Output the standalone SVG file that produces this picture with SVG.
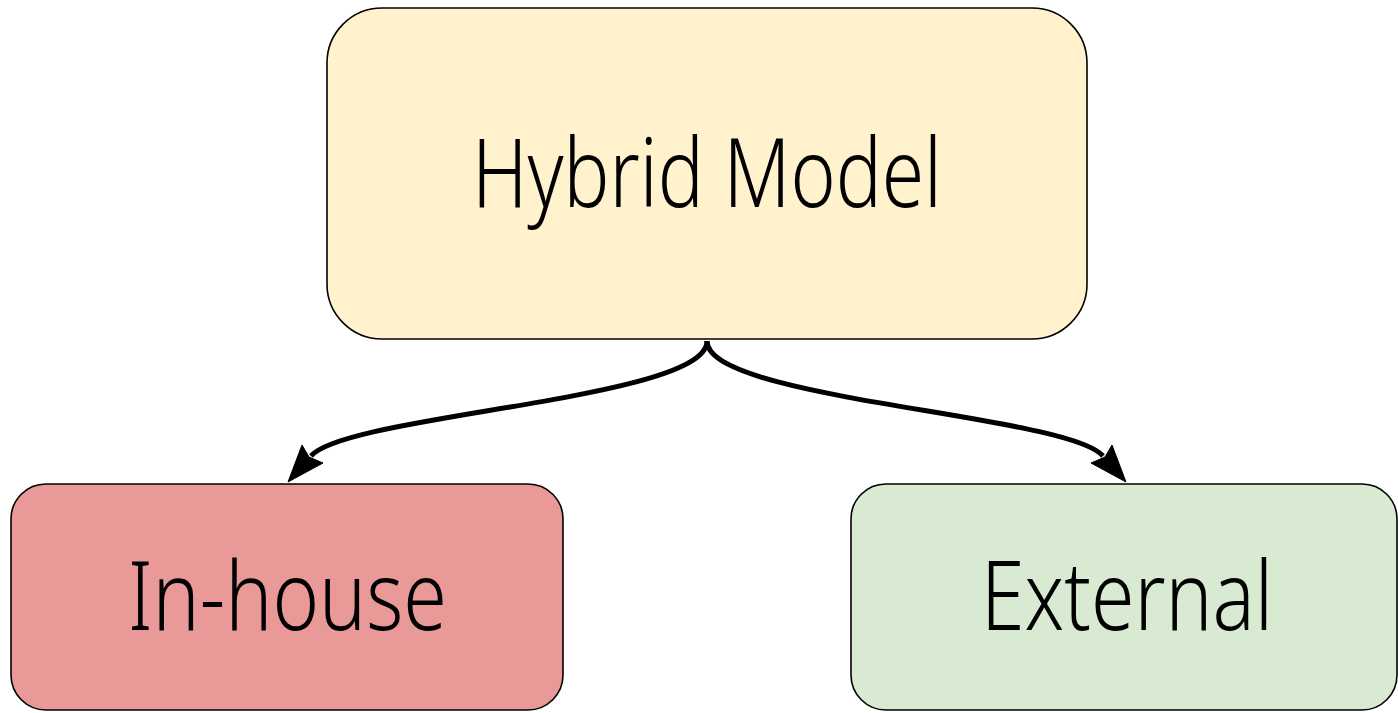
<svg xmlns="http://www.w3.org/2000/svg" width="1398" height="713" viewBox="0 0 1398 713">
  <defs>
    <style>
      .box { stroke: #000; stroke-width: 1.6; }
      .label { font-family: "Noto Sans", "Open Sans", "DejaVu Sans", sans-serif; font-weight: 300; font-size: 96px; fill: #000; text-anchor: middle; }
      .edge { fill: none; stroke: #000; stroke-width: 5; }
      .head { fill: #000; stroke: #000; stroke-width: 1; stroke-linejoin: miter; }
    </style>
  </defs>

  <rect width="1398" height="713" fill="#fff"/>

  <!-- connectors with their arrowheads -->
  <g id="connectors">
    <path class="edge" d="M707,341 C707,400 348,414 311,456"/>
    <path class="head" d="M288,482 L302,445 L309,457 L323,463 Z"/>
    <path class="edge" d="M707,341 C707,400 1066,414 1103,456"/>
    <path class="head" d="M1126,482 L1112,445 L1105,457 L1091,463 Z"/>
  </g>

  <!-- top node -->
  <g id="hybrid-model">
    <rect class="box" x="327" y="8" width="760" height="331" rx="55" ry="55" fill="#fff2cc"/>
    <text class="label" x="707" y="207" textLength="470" lengthAdjust="spacingAndGlyphs">Hybrid Model</text>
  </g>

  <!-- left node -->
  <g id="in-house">
    <rect class="box" x="11" y="484" width="552" height="226" rx="35" ry="35" fill="#ea9999"/>
    <text class="label" x="287.5" y="630" textLength="319" lengthAdjust="spacingAndGlyphs">In-house</text>
  </g>

  <!-- right node -->
  <g id="external">
    <rect class="box" x="851" y="484" width="546" height="226" rx="35" ry="35" fill="#d9ead3"/>
    <text class="label" x="1127" y="630" textLength="292" lengthAdjust="spacingAndGlyphs">External</text>
  </g>
</svg>
